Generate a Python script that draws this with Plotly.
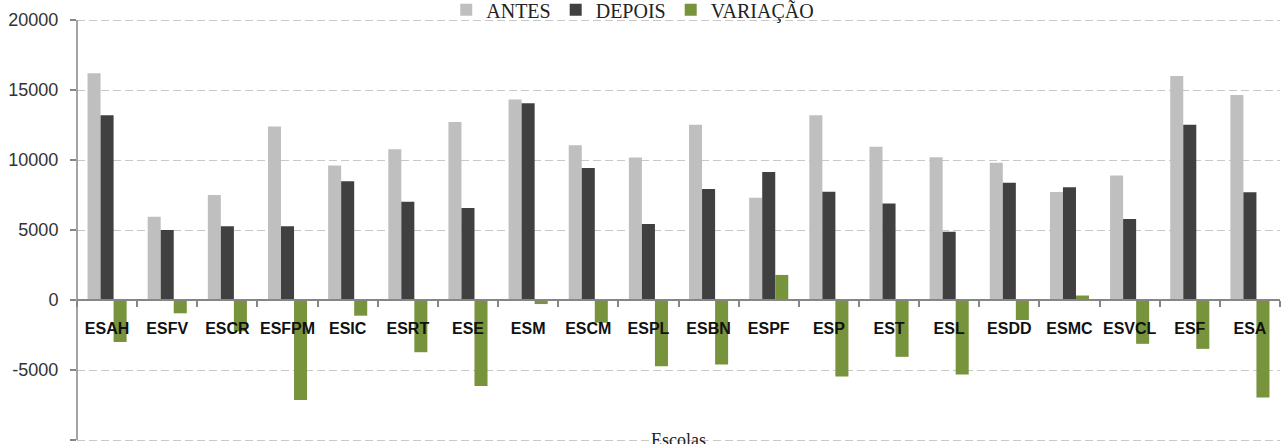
import plotly.graph_objects as go

escolas = ["ESAH", "ESFV", "ESCR", "ESFPM", "ESIC", "ESRT", "ESE", "ESM", "ESCM", "ESPL",
           "ESBN", "ESPF", "ESP", "EST", "ESL", "ESDD", "ESMC", "ESVCL", "ESF", "ESA"]
antes = [16200, 5950, 7500, 12400, 9600, 10760, 12710, 14330, 11050, 10170,
         12520, 7310, 13190, 10950, 10190, 9810, 7710, 8900, 16000, 14640]
depois = [13200, 5000, 5270, 5260, 8480, 7020, 6570, 14050, 9430, 5430,
          7930, 9140, 7740, 6900, 4880, 8380, 8050, 5790, 12520, 7690]
variacao = [-3000, -950, -2230, -7140, -1120, -3730, -6140, -290, -1620, -4730,
            -4610, 1790, -5460, -4060, -5320, -1430, 320, -3130, -3490, -6960]
y_ticks = [-10000, -5000, 0, 5000, 10000, 15000, 20000]

y_lo, y_hi = -10143, 20143

fig = go.Figure()
fig.add_trace(go.Bar(name="ANTES", x=escolas, y=antes, marker_color="#bfbfbf", marker_line_width=0))
fig.add_trace(go.Bar(name="DEPOIS", x=escolas, y=depois, marker_color="#404040", marker_line_width=0))
fig.add_trace(go.Bar(name="VARIAÇÃO", x=escolas, y=variacao, marker_color="#77933c", marker_line_width=0))

fig.update_layout(
    width=1286, height=444,
    margin=dict(l=77, r=6, t=18, b=2, autoexpand=False),
    paper_bgcolor="white", plot_bgcolor="white",
    barmode="group", bargap=0.35, bargroupgap=0,
    showlegend=True,
    legend=dict(orientation="h", xref="container", yref="container",
                x=0.347, xanchor="left", y=0.978, yanchor="middle",
                font=dict(family="Liberation Serif", size=20, color="#222222"),
                bgcolor="rgba(0,0,0,0)", itemwidth=30, tracegroupgap=0),
    xaxis=dict(
        type="category", anchor="free", position=-y_lo / (y_hi - y_lo),
        showline=True, linecolor="#868686", linewidth=1.5,
        ticks="outside", ticklen=6, tickcolor="#868686", tickwidth=1.5,
        tickson="boundaries", showgrid=False, tickangle=0,
        tickfont=dict(family="Liberation Sans", size=16, color="#111111", weight="bold"),
        ticklabelstandoff=14,
    ),
    yaxis=dict(
        range=[y_lo, y_hi], tickvals=y_ticks, ticktext=[str(v) for v in y_ticks],
        showline=False,
        ticks="outside", ticklen=6, tickcolor="#868686", tickwidth=1.5,
        showgrid=True, gridcolor="#c8c8c8", gridwidth=1, griddash="8px,4px",
        zeroline=False,
        tickfont=dict(family="Liberation Sans", size=18, color="#333333"),
        ticklabelstandoff=8,
    ),
    shapes=[dict(type="line", xref="paper", yref="y", x0=0, x1=0,
                 y0=y_ticks[0], y1=y_ticks[-1],
                 line=dict(color="#868686", width=1.5), layer="above")],
    annotations=[dict(text="Escolas", xref="paper", yref="y", x=0.5, y=y_ticks[0],
                      xanchor="center", yanchor="middle", showarrow=False,
                      font=dict(family="Liberation Serif", size=18, color="#222222"))],
)

fig.write_html("out.html")
